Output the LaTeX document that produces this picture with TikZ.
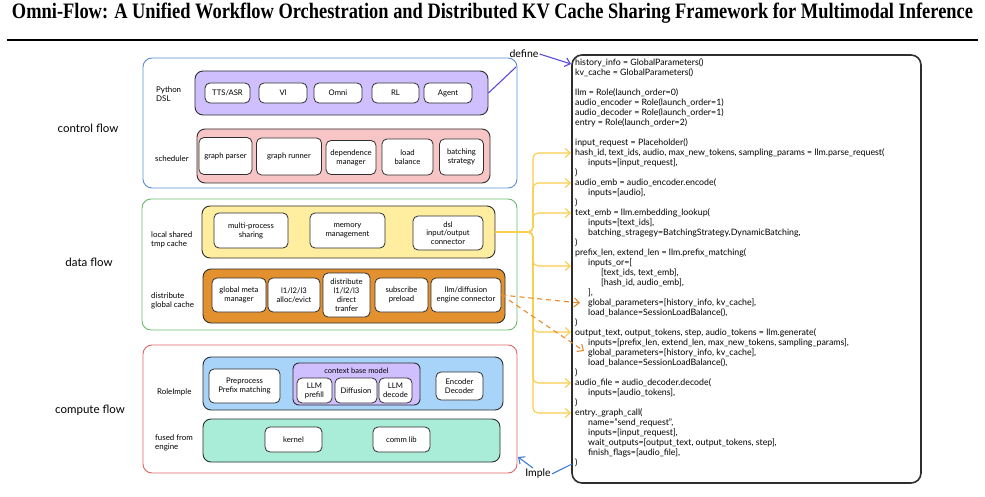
\documentclass[tikz,border=0pt]{standalone}
\usepackage{fontspec}
\setmainfont{Lato}
\newfontfamily\titlefont{Liberation Serif}
\usetikzlibrary{arrows.meta}
\definecolor{cblue}{HTML}{5B8ED6}
\definecolor{cgreen}{HTML}{6DBA6D}
\definecolor{cred}{HTML}{E06666}
\definecolor{fpurple}{HTML}{D0BFFF}
\definecolor{fpink}{HTML}{F7C5C5}
\definecolor{fyellow}{HTML}{FFEDA0}
\definecolor{forange}{HTML}{E3912E}
\definecolor{fblue}{HTML}{A9D4FA}
\definecolor{fmint}{HTML}{A9EDD8}
\definecolor{ayellow}{HTML}{F7CD4A}
\definecolor{aorange}{HTML}{E88A2E}
\definecolor{aindigo}{HTML}{5A4BD8}
\definecolor{aimple}{HTML}{3F7BD6}
\definecolor{edge}{HTML}{2E2E2E}
\newcommand{\cind}{\hspace*{13pt}}
\tikzset{
  outer/.style={draw, line width=0.9pt, rounded corners=9pt, inner sep=0pt},
  panel/.style={draw=edge, line width=0.9pt, rounded corners=8pt, inner sep=0pt},
  box/.style={draw=edge, fill=white, line width=0.8pt, rounded corners=5pt, align=center,
    font=\fontsize{7.7}{8.8}\selectfont, inner sep=1pt},
  lbl/.style={align=left, anchor=west, inner sep=0pt, font=\fontsize{7.9}{9.4}\selectfont},
  flow/.style={inner sep=0pt, font=\fontsize{11.5}{13}\selectfont},
  codetxt/.style={align=left, inner sep=0pt, font=\fontsize{8.8}{10}\selectfont},
  tip/.style={-{Straight Barb[length=5pt,width=9pt]}},
  yarr/.style={draw=ayellow, line width=1.1pt, rounded corners=5pt, tip},
  oarr/.style={draw=aorange, line width=1.1pt, dash pattern=on 5pt off 4pt, tip},
  side/.style={inner sep=1pt, font=\fontsize{10.5}{12}\selectfont},
}
\begin{document}
\begin{tikzpicture}[x=1pt,y=-1pt]
\useasboundingbox (0,0) rectangle (985,497);
% title
\node[anchor=base, inner sep=0pt] (title) at (492.5,18.5)
  {\resizebox{961pt}{15.5pt}{\titlefont\bfseries Omni-Flow: A Unified Workflow Orchestration and Distributed KV Cache Sharing Framework for Multimodal Inference}};
\draw[line width=1.8pt] (7,40) -- (978,40);

% flow labels
\node[flow] (lcontrol) at (88,128) {control flow};
\node[flow] (ldata) at (89,262) {data flow};
\node[flow] (lcompute) at (90,410) {compute flow};

% control flow
\node[outer, draw=cblue, minimum width=374pt, minimum height=130pt] (ctrl) at (330,123) {};
\node[panel, fill=fpurple, minimum width=293pt, minimum height=44pt] (dslp) at (341.5,93) {};
\node[lbl] (ldsl) at (156,94) {Python\\DSL};
\node[box, minimum width=45pt, minimum height=20pt] (tts) at (227.5,93) {TTS/ASR};
\node[box, minimum width=48pt, minimum height=20pt] (vl) at (283,93) {Vl};
\node[box, minimum width=48pt, minimum height=20pt] (omni) at (338,93) {Omni};
\node[box, minimum width=47pt, minimum height=20pt] (rl) at (395.5,93) {RL};
\node[box, minimum width=48pt, minimum height=20pt] (agent) at (448,93) {Agent};

\node[panel, fill=fpink, minimum width=293pt, minimum height=54pt] (sched) at (343.5,156) {};
\node[lbl] (lsched) at (155,159) {scheduler};
\node[box, minimum width=53pt, minimum height=37pt] (gp) at (225.5,156) {graph parser};
\node[box, minimum width=65pt, minimum height=37pt] (gr) at (289,156.5) {graph runner};
\node[box, minimum width=50pt, minimum height=34pt] (dm) at (351,157.5) {dependence\\manager};
\node[box, minimum width=51pt, minimum height=36pt] (lb) at (407.5,157) {load\\balance};
\node[box, minimum width=44pt, minimum height=36pt] (bs) at (461.5,157) {batching\\strategy};

% data flow
\node[outer, draw=cgreen, minimum width=375pt, minimum height=131pt] (data) at (329.5,264.5) {};
\node[panel, fill=fyellow, minimum width=293pt, minimum height=52pt] (yl) at (348.5,232) {};
\node[lbl] (lloc) at (151,240) {local shared\\tmp cache};
\node[box, minimum width=74pt, minimum height=35pt] (mps) at (251,230.5) {multi-process\\sharing};
\node[box, minimum width=75pt, minimum height=35pt] (mem) at (347.5,230.5) {memory\\management};
\node[box, minimum width=70pt, minimum height=34pt] (dslc) at (448,233) {dsl\\input/output\\connector};

\node[panel, fill=forange, minimum width=302pt, minimum height=54pt] (org) at (354,296) {};
\node[lbl] (ldist) at (151,301) {distribute\\global cache};
\node[box, minimum width=54pt, minimum height=34pt] (gmm) at (239,295) {global meta\\manager};
\node[box, minimum width=52pt, minimum height=34pt] (ae) at (294,295) {l1/l2/l3\\alloc/evict};
\node[box, minimum width=47pt, minimum height=44pt] (dt) at (346.5,295) {distribute\\l1/l2/l3\\direct\\tranfer};
\node[box, minimum width=53pt, minimum height=34pt] (sp) at (401.5,295) {subscribe\\preload};
\node[box, minimum width=70pt, minimum height=34pt] (eng) at (466,295) {llm/diffusion\\engine connector};

% compute flow
\node[outer, draw=cred, minimum width=374pt, minimum height=128pt] (comp) at (330,409) {};
\node[panel, fill=fblue, minimum width=300pt, minimum height=53pt] (role) at (353,383.5) {};
\node[lbl] (lrole) at (157,392) {RoleImple};
\node[box, minimum width=71pt, minimum height=34pt] (pre) at (244.5,386) {Preprocess\\Prefix matching};
\node[panel, fill=fpurple, rounded corners=6pt, minimum width=127pt, minimum height=42pt] (ctx) at (356.5,384) {};
\node[inner sep=0pt, font=\fontsize{7.5}{8.5}\selectfont] (ctxl) at (356.5,370.5) {context base model};
\node[box, minimum width=35pt, minimum height=25pt] (pf) at (314.5,390.5) {LLM\\prefill};
\node[box, minimum width=42pt, minimum height=25pt] (dif) at (356,390.5) {Diffusion};
\node[box, minimum width=33pt, minimum height=25pt] (dec) at (395.5,390.5) {LLM\\decode};
\node[box, minimum width=47pt, minimum height=28pt] (ed) at (459.5,386) {Encoder\\Decoder};

\node[panel, fill=fmint, minimum width=297pt, minimum height=43pt] (fused) at (351.5,440.5) {};
\node[lbl] (lfused) at (155,443) {fused from\\engine};
\node[box, minimum width=57pt, minimum height=25pt] (kern) at (293.5,439.5) {kernel};
\node[box, minimum width=57pt, minimum height=25pt] (comm) at (401.5,439.5) {comm lib};

% code box
\node[draw=edge, line width=1.6pt, rounded corners=10pt, minimum width=349pt, minimum height=428pt, inner sep=0pt] (codebox) at (746.5,269) {};
\node[codetxt, anchor=north west] (code) at (575,58) {%
history\_info = GlobalParameters()\\
kv\_cache = GlobalParameters()\\[10pt]
llm = Role(launch\_order=0)\\
audio\_encoder = Role(launch\_order=1)\\
audio\_decoder = Role(launch\_order=1)\\
entry = Role(launch\_order=2)\\[10pt]
input\_request = Placeholder()\\
hash\_id, text\_ids, audio, max\_new\_tokens, sampling\_params = llm.parse\_request(\\
\cind inputs=[input\_request],\\
)\\
audio\_emb = audio\_encoder.encode(\\
\cind inputs=[audio],\\
)\\
text\_emb = llm.embedding\_lookup(\\
\cind inputs=[text\_ids],\\
\cind batching\_stragegy=BatchingStrategy.DynamicBatching,\\
)\\
prefix\_len, extend\_len = llm.prefix\_matching(\\
\cind inputs\_or=[\\
\cind\cind [text\_ids, text\_emb],\\
\cind\cind [hash\_id, audio\_emb],\\
\cind ],\\
\cind global\_parameters=[history\_info, kv\_cache],\\
\cind load\_balance=SessionLoadBalance(),\\
)\\
output\_text, output\_tokens, step, audio\_tokens = llm.generate(\\
\cind inputs=[prefix\_len, extend\_len, max\_new\_tokens, sampling\_params],\\
\cind global\_parameters=[history\_info, kv\_cache],\\
\cind load\_balance=SessionLoadBalance(),\\
)\\
audio\_file = audio\_decoder.decode(\\
\cind inputs=[audio\_tokens],\\
)\\
entry.\_graph\_call(\\
\cind name="send\_request",\\
\cind inputs=[input\_request],\\
\cind wait\_outputs=[output\_text, output\_tokens, step],\\
\cind finish\_flags=[audio\_file],\\
)};

% yellow arrows
\coordinate (yj) at (533,232);
\coordinate (t1) at (571,153);
\coordinate (t2) at (571,183);
\coordinate (t3) at (571,213);
\coordinate (t4) at (571,266);
\coordinate (t5) at (571,332);
\coordinate (t6) at (571,383);
\coordinate (t7) at (571,413);
\foreach \t in {t1,t2,t3,t4,t5,t6,t7}
  \draw[yarr] (yl.east) -- (yj) |- (\t);

% orange dashed arrows
\coordinate (o1) at (580,303);
\coordinate (o2) at (584,351);
\draw[oarr] (eng.east) -- (o1);
\draw[oarr] (eng.east) -- (o2);

% define
\node[side] (deftxt) at (524,54) {define};
\coordinate (dlow) at (516,67);
\coordinate (cdef) at (571,64);
\draw[aindigo, line width=1.1pt] (dslp.east) -- (dlow);
\draw[aindigo, line width=1.1pt, tip] (deftxt.east) -- (cdef);

% imple
\node[side] (imple) at (538,474) {Imple};
\coordinate (cimp1) at (518,457);
\coordinate (cimp2) at (572,464);
\draw[aimple, line width=1.1pt, tip] (imple.130) -- (cimp1);
\draw[aimple, line width=1.1pt] (imple.east) -- (cimp2);
\end{tikzpicture}
\end{document}
